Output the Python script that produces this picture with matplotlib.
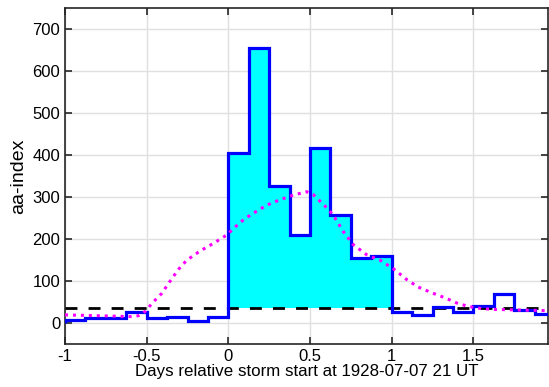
import numpy as np
import matplotlib
matplotlib.use("Agg")
import matplotlib.pyplot as plt

plt.rcParams['font.family'] = ['Liberation Sans', 'DejaVu Sans']

# 3-hourly aa-index values, bins of 0.125 day starting at -1 day
bin_start = -1.0
bin_width = 0.125
aa_values = [7, 13, 13, 28, 13, 16, 6, 16,
             405, 654, 327, 211, 416, 258, 155, 160,
             28, 20, 39, 28, 40, 70, 31, 23]
threshold = 37

# smoothed (dotted magenta) curve
smooth_x = [-1.0, -0.8, -0.6, -0.55, -0.51, -0.459, -0.408, -0.357, -0.306, -0.255,
            -0.173, -0.092, -0.01, 0.031, 0.072, 0.133, 0.235, 0.317, 0.398, 0.48,
            0.52, 0.602, 0.643, 0.704, 0.765, 0.847, 0.929, 1.01, 1.092, 1.163,
            1.25, 1.33, 1.4, 1.47, 1.55, 1.63, 1.75, 1.85, 1.96]
smooth_y = [20, 18, 16, 18, 28, 51, 71, 100, 128, 150,
            172, 190, 210, 225, 240, 257, 281, 294, 305, 313,
            306, 275, 257, 218, 187, 163, 150, 130, 104, 86,
            72, 60, 48, 40, 35, 33, 32, 31, 30]

xticks = [-1, -0.5, 0, 0.5, 1, 1.5]
xticklabels = ['-1', '-0.5', '0', '0.5', '1', '1.5']
yticks = [0, 100, 200, 300, 400, 500, 600, 700]

edges = bin_start + bin_width * np.arange(len(aa_values) + 1)
vals = np.array(aa_values, dtype=float)

fig = plt.figure(figsize=(5.49, 3.87), dpi=100)
ax = fig.add_axes([0.1184, 0.1103, 0.9976 - 0.1184, 0.9793 - 0.1103])

# storm fill (0 to 1 day)
i0, i1 = 8, 16
ax.stairs(vals[i0:i1], edges[i0:i1 + 1], baseline=threshold, fill=True,
          color=(0, 1, 1), zorder=2)

ax.axhline(threshold, color='black', lw=2, ls=(0, (4.3, 4)), zorder=3)
ax.stairs(vals, edges, color=(0, 0, 1), lw=2.3, zorder=4)
ax.plot(smooth_x, smooth_y, color=(1, 0, 1), lw=2.2, ls=(0, (1, 1.6)),
        dash_capstyle='butt', zorder=5)

ax.set_xlim(-1, 1.955)
ax.set_ylim(-50, 750)
ax.set_xticks(xticks)
ax.set_xticklabels(xticklabels)
ax.set_yticks(yticks)
ax.grid(True, color=(0.88, 0.88, 0.88), lw=1, zorder=0)
ax.set_axisbelow(True)
ax.tick_params(direction='in', top=True, right=True, labelsize=12, length=5,
               width=1.2, color=(0.15, 0.15, 0.15), pad=3.5)
for s in ax.spines.values():
    s.set_color((0.15, 0.15, 0.15))
    s.set_linewidth(1.2)
ax.set_xlabel('Days relative storm start at 1928-07-07 21 UT', fontsize=12.2, labelpad=0)
ax.set_ylabel('aa-index', fontsize=14, labelpad=4)

fig.savefig('out.png', dpi=100)
